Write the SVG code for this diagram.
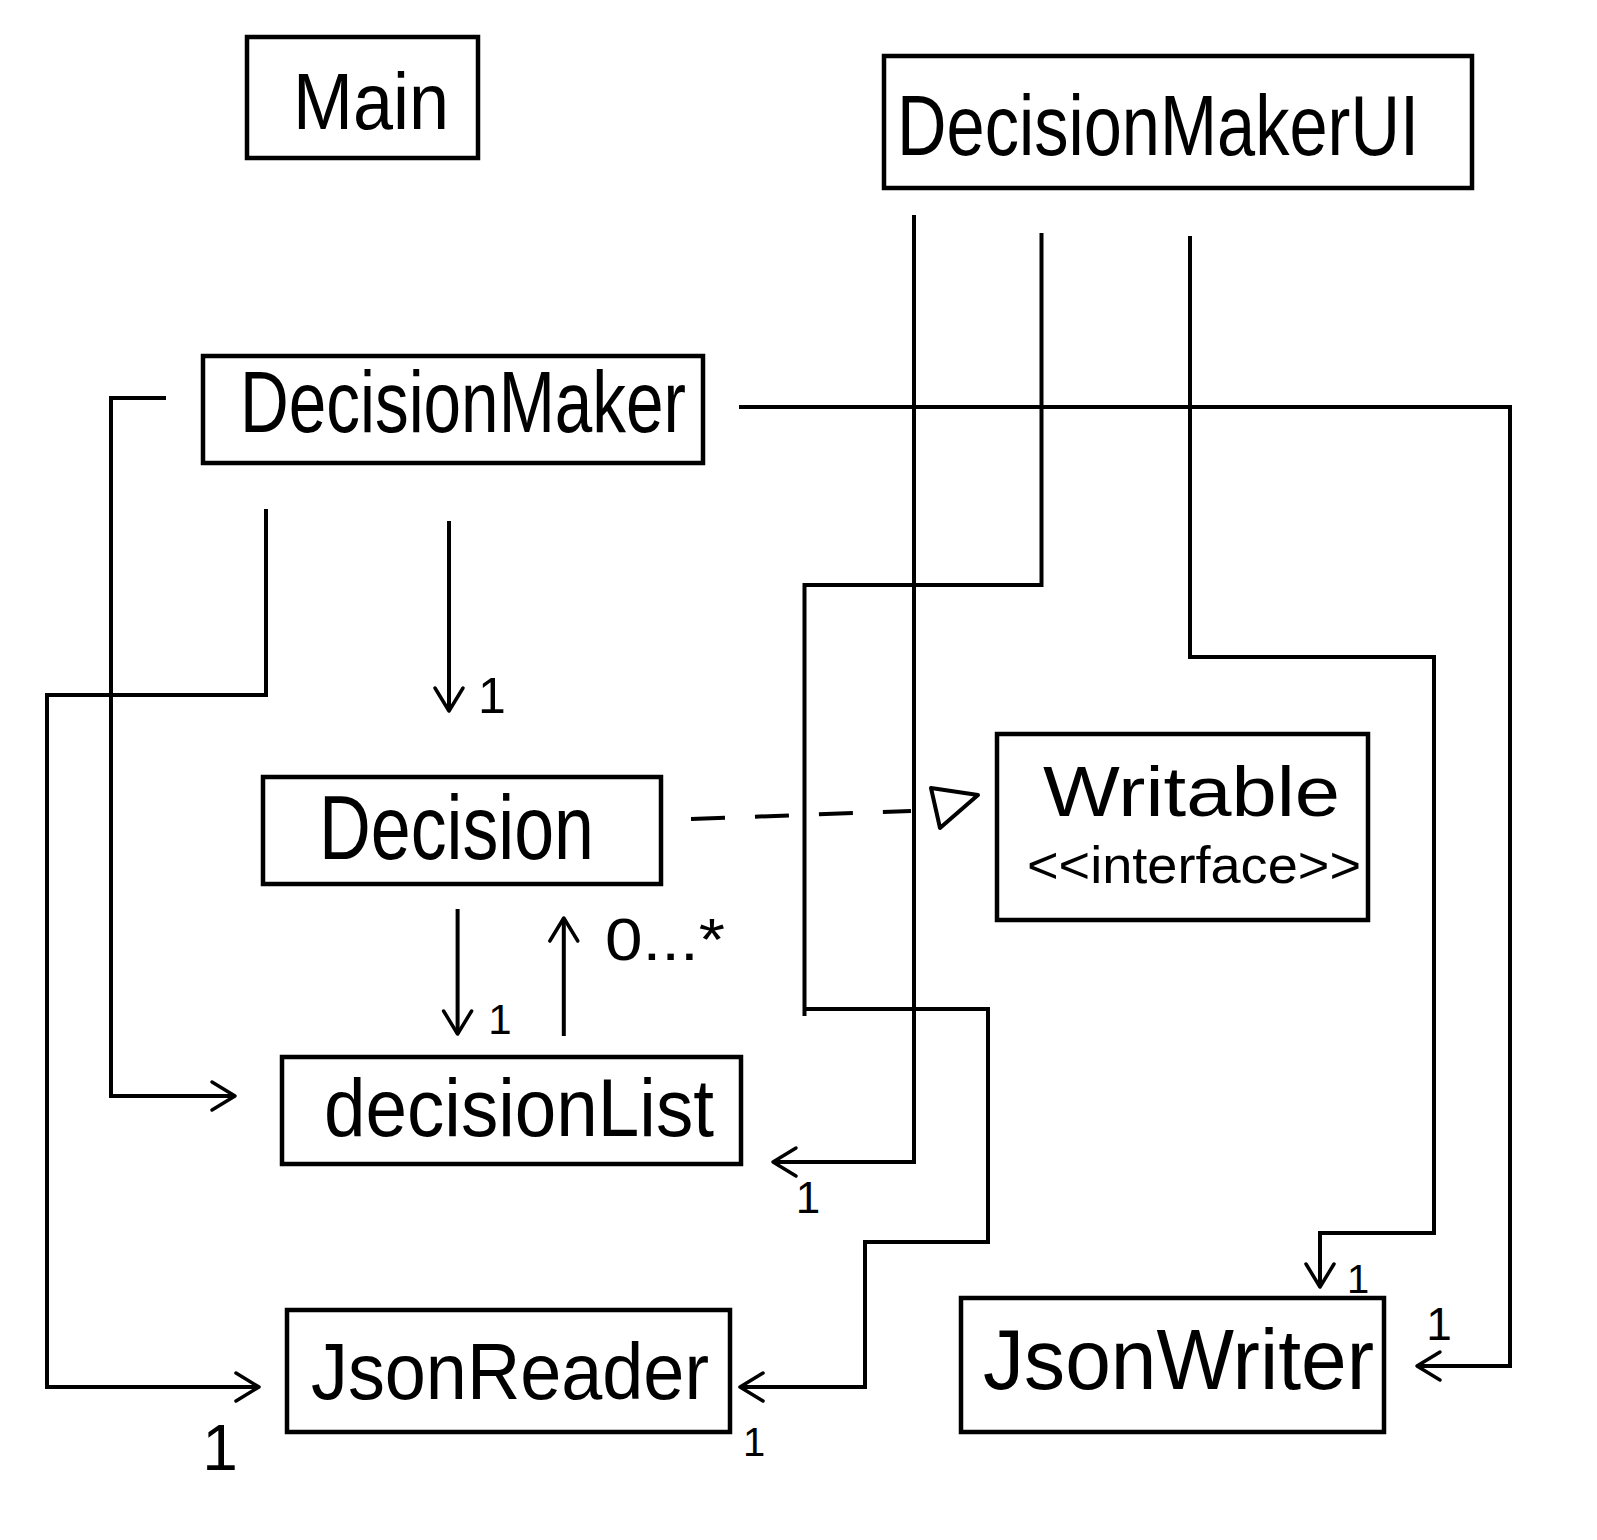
<svg xmlns="http://www.w3.org/2000/svg" width="1597" height="1540" viewBox="0 0 1597 1540">
<style>
.box{fill:#fff;stroke:#000;stroke-width:4.5}
.lbl{font-family:"Liberation Sans",Arial,sans-serif;fill:#000}
.name{font-family:"Liberation Sans",Arial,sans-serif;fill:#000}
.ln{fill:none;stroke:#000;stroke-width:4;stroke-linejoin:miter}
.dash{fill:none;stroke:#000;stroke-width:4;stroke-dasharray:34 30}
.mult{font-family:"Liberation Sans",Arial,sans-serif;fill:#000;text-anchor:middle}
</style>
<defs>
<marker id="open" markerUnits="userSpaceOnUse" markerWidth="32" markerHeight="34" refX="26" refY="17" orient="auto">
<path d="M3,3 L26,17 L3,31" fill="none" stroke="#000" stroke-width="3.5" stroke-linecap="round" stroke-linejoin="round"/>
</marker>
</defs>
<rect width="1597" height="1540" fill="#fff"/>
<g id="connectors">
<path class="ln" d="M166,398 H111 V1096 H235" marker-end="url(#open)"/>
<path class="ln" d="M266,509 V695 H47 V1387 H259" marker-end="url(#open)"/>
<path class="ln" d="M449,521 V711" marker-end="url(#open)"/>
<path class="ln" d="M739,407 H1510 V1366 H1417" marker-end="url(#open)"/>
<path class="ln" d="M457.6,909 V1034" marker-end="url(#open)"/>
<path class="ln" d="M563.8,1036 V918" marker-end="url(#open)"/>
<path class="dash" d="M691,819 L911,811"/>
<polygon points="931,788 978,795 940,828" fill="#fff" stroke="#000" stroke-width="4" stroke-linejoin="round"/>
<path class="ln" d="M914,215 V1162 H773" marker-end="url(#open)"/>
<path class="ln" d="M1041.5,233 V585 H804.5 V1016"/>
<path class="ln" d="M804.5,1009 H988 V1242 H865 V1387 H740" marker-end="url(#open)"/>
<path class="ln" d="M1190,236 V657 H1434 V1233 H1320 V1287" marker-end="url(#open)"/>
<text class="mult" x="492" y="713" font-size="50">1</text>
<text class="mult" x="500" y="1034" font-size="42">1</text>
<text class="lbl" x="605" y="960" font-size="60" textLength="120" lengthAdjust="spacingAndGlyphs">0...*</text>
<text class="mult" x="808" y="1213" font-size="44">1</text>
<text class="mult" x="220" y="1470" font-size="64">1</text>
<text class="mult" x="754" y="1456" font-size="40">1</text>
<text class="mult" x="1358" y="1293" font-size="40">1</text>
<text class="mult" x="1439" y="1340" font-size="46">1</text>
</g>
<g id="main">
<rect class="box" x="247" y="37" width="231" height="121"/>
<text class="name" x="293" y="129" font-size="80" textLength="156" lengthAdjust="spacingAndGlyphs">Main</text>
</g>
<g id="decisionmakerui">
<rect class="box" x="884" y="56" width="588" height="132"/>
<text class="name" x="897" y="155" font-size="86" textLength="522" lengthAdjust="spacingAndGlyphs">DecisionMakerUI</text>
</g>
<g id="decisionmaker">
<rect class="box" x="203" y="356" width="500" height="107"/>
<text class="name" x="240" y="432" font-size="88" textLength="446" lengthAdjust="spacingAndGlyphs">DecisionMaker</text>
</g>
<g id="decision">
<rect class="box" x="263" y="777" width="398" height="107"/>
<text class="name" x="319" y="859" font-size="90" textLength="275" lengthAdjust="spacingAndGlyphs">Decision</text>
</g>
<g id="writable">
<rect class="box" x="997" y="734" width="371" height="186"/>
<text class="name" x="1043" y="816" font-size="70" textLength="297" lengthAdjust="spacingAndGlyphs">Writable</text>
<text class="name" x="1027" y="883" font-size="52" textLength="334" lengthAdjust="spacingAndGlyphs">&lt;&lt;interface&gt;&gt;</text>
</g>
<g id="decisionlist">
<rect class="box" x="282" y="1057" width="459" height="107"/>
<text class="name" x="324" y="1136" font-size="82" textLength="390" lengthAdjust="spacingAndGlyphs">decisionList</text>
</g>
<g id="jsonreader">
<rect class="box" x="287" y="1310" width="443" height="122"/>
<text class="name" x="311" y="1399" font-size="80" textLength="398" lengthAdjust="spacingAndGlyphs">JsonReader</text>
</g>
<g id="jsonwriter">
<rect class="box" x="961" y="1298" width="423" height="134"/>
<text class="name" x="983" y="1389" font-size="86" textLength="391" lengthAdjust="spacingAndGlyphs">JsonWriter</text>
</g>
</svg>
